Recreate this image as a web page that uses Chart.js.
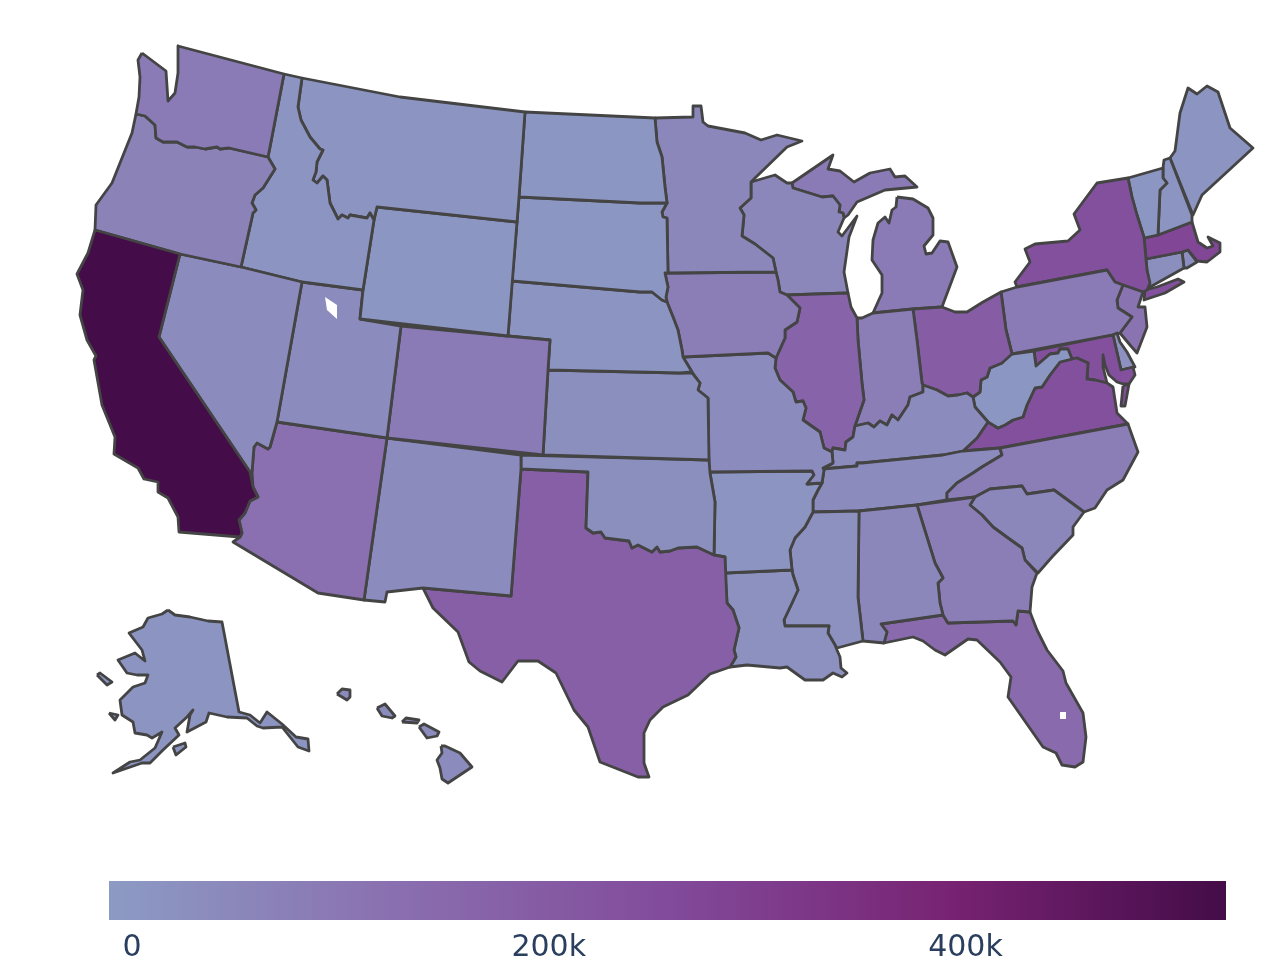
<!DOCTYPE html>
<html>
<head>
<meta charset="utf-8">
<title>US states choropleth</title>
<script src="https://cdn.jsdelivr.net/npm/chart.js@4"></script>
<style>
  html, body { margin: 0; padding: 0; background: #fff; }
  #mapChart { position: absolute; left: 0; top: 0; }
  #barChart { position: absolute; left: 0; top: 881px; }
</style>
</head>
<body>
<canvas id="mapChart" width="1268" height="974"></canvas>
<canvas id="barChart" width="1268" height="93"></canvas>
<script>
const stateNames = ["CA","WA","OR","NV","ID","MT","WY","UT","CO","AZ","NM","ND","SD","NE","KS","OK","TX","MN","IA","MO","AR","LA","MS","AL","GA","SC","NC","FL","TN","KY","IL","IN","OH","WV","VA","MD","DE","PA","NJ","NY","VT","NH","ME","MA","CT","RI","WI","MI","HI","AK"]
const stateValues = [525000,92000,67000,36000,11000,8000,5000,36000,92000,123000,36000,5000,5000,11000,26000,26000,185000,51000,82000,36000,11000,20000,20000,51000,82000,51000,82000,140000,36000,36000,166000,82000,195000,5000,239000,239000,20000,92000,114000,239000,5000,8000,8000,274000,26000,30000,51000,92000,36000,8000]

// Outlines in map units, one list of rings per state, same order as stateNames
const stateOutlines = [
  [[[95,230],[180,254],[159,337],[250,472],[253,487],[258,497],[250,501],[245,513],[239,520],[242,533],[240,537],[179,532],[178,517],[168,498],[158,492],[158,482],[144,479],[138,468],[114,454],[115,437],[102,405],[94,360],[96,356],[87,340],[80,315],[83,290],[77,274],[88,253]]],
  [[[142,53],[138,60],[140,77],[139,97],[136,114],[145,116],[155,125],[156,138],[163,142],[177,142],[187,147],[195,147],[205,149],[217,147],[220,149],[229,148],[268,157],[270,147],[284,74],[178,46],[178,73],[175,93],[168,101],[166,71]]],
  [[[136,114],[132,133],[112,183],[96,205],[95,230],[180,254],[241,267],[253,213],[256,210],[252,203],[255,195],[263,188],[275,169],[268,157],[229,148],[220,149],[217,147],[205,149],[195,147],[187,147],[177,142],[163,142],[156,138],[155,125],[145,116]]],
  [[[180,254],[241,267],[302,282],[277,422],[270,447],[268,449],[257,443],[254,447],[252,472],[250,472],[159,337]]],
  [[[284,74],[302,78],[298,107],[301,120],[310,137],[320,149],[323,150],[317,162],[316,172],[313,180],[317,183],[323,176],[327,180],[330,203],[338,219],[342,215],[348,218],[350,215],[367,218],[370,213],[374,220],[363,290],[302,282],[241,267],[253,213],[256,210],[252,203],[255,195],[263,188],[275,169],[268,157],[270,147]]],
  [[[302,78],[400,97],[525,112],[519,197],[517,222],[377,207],[374,220],[370,213],[367,218],[350,215],[348,218],[342,215],[338,219],[330,203],[327,180],[323,176],[317,183],[313,180],[316,172],[317,162],[323,150],[320,149],[310,137],[301,120],[298,107]]],
  [[[377,207],[517,222],[508,336],[360,319],[363,290],[374,220]]],
  [[[302,282],[363,290],[360,319],[401,326],[387,438],[277,422]]],
  [[[401,326],[550,340],[548,370],[543,455],[387,438]]],
  [[[277,422],[387,438],[364,600],[318,593],[233,542],[240,537],[242,533],[239,520],[245,513],[250,501],[258,497],[253,487],[252,472],[254,447],[257,443],[268,449],[270,447]]],
  [[[387,438],[521,455],[521,469],[511,596],[423,588],[387,592],[385,602],[364,600]]],
  [[[525,112],[655,118],[657,142],[662,157],[665,187],[667,203],[640,203],[519,197]]],
  [[[519,197],[640,203],[667,203],[662,212],[663,217],[667,218],[668,273],[665,273],[668,287],[666,297],[667,302],[662,300],[652,292],[640,292],[512,281],[517,222]]],
  [[[512,281],[640,292],[652,292],[662,300],[667,302],[673,317],[678,330],[682,350],[683,357],[692,372],[680,373],[548,370],[550,340],[508,336]]],
  [[[548,370],[680,373],[692,373],[700,383],[698,390],[708,398],[709,460],[543,455]]],
  [[[521,455],[709,460],[710,473],[715,502],[714,555],[697,547],[678,548],[670,551],[660,552],[657,547],[652,552],[638,545],[632,548],[629,541],[605,538],[601,532],[593,533],[586,528],[588,472],[521,469]]],
  [[[521,469],[588,472],[586,528],[593,533],[601,532],[605,538],[629,541],[632,548],[638,545],[652,552],[657,547],[660,552],[670,551],[678,548],[697,547],[714,555],[725,557],[727,603],[733,610],[739,628],[734,650],[736,657],[730,667],[710,674],[688,695],[663,707],[650,720],[644,733],[644,763],[649,777],[638,777],[600,762],[588,727],[574,710],[556,673],[538,661],[518,661],[502,682],[480,671],[469,662],[458,632],[433,608],[423,588],[511,596]]],
  [[[655,118],[693,117],[693,106],[701,106],[703,122],[708,126],[745,133],[761,140],[777,135],[802,141],[787,147],[755,178],[751,182],[751,198],[740,208],[744,215],[742,236],[755,244],[773,258],[776,272],[668,273],[667,218],[663,217],[662,212],[667,203],[665,187],[662,157],[657,142]]],
  [[[668,273],[776,272],[778,280],[780,292],[787,295],[800,308],[797,322],[785,330],[785,338],[776,358],[768,353],[683,357],[682,350],[678,330],[673,317],[667,302],[666,297],[668,287],[665,273]]],
  [[[683,357],[768,353],[776,358],[775,368],[780,380],[793,392],[796,402],[803,401],[806,408],[803,420],[820,432],[824,448],[832,452],[833,463],[823,468],[824,470],[822,483],[807,484],[814,475],[812,471],[709,472],[708,398],[698,390],[700,383],[692,372]]],
  [[[709,472],[812,471],[814,475],[807,484],[822,483],[818,490],[813,500],[813,512],[805,527],[795,538],[790,550],[792,570],[725,573],[725,557],[714,555],[715,502],[710,473]]],
  [[[725,573],[792,570],[793,575],[798,590],[792,603],[784,620],[785,626],[829,626],[828,633],[835,645],[837,650],[840,657],[841,668],[847,673],[842,677],[833,673],[823,680],[805,680],[787,667],[780,668],[747,665],[730,667],[736,657],[734,650],[739,628],[733,610],[727,603]]],
  [[[813,512],[859,511],[858,597],[863,641],[837,648],[835,645],[828,633],[829,626],[785,626],[784,620],[792,603],[798,590],[793,575],[792,570],[790,550],[795,538],[805,527]]],
  [[[859,511],[917,505],[935,563],[943,578],[938,583],[940,603],[943,615],[881,624],[887,632],[884,643],[863,641],[858,597]]],
  [[[917,505],[975,497],[970,505],[982,515],[993,527],[1008,538],[1022,548],[1025,560],[1037,573],[1032,587],[1030,612],[1018,611],[1016,625],[1013,621],[948,623],[943,615],[940,603],[938,583],[943,578],[935,563]]],
  [[[970,505],[975,497],[990,489],[1022,486],[1027,494],[1054,490],[1084,512],[1073,527],[1073,535],[1052,557],[1038,573],[1025,560],[1022,548],[1008,538],[993,527],[982,515]]],
  [[[1000,448],[1128,424],[1138,452],[1123,480],[1107,490],[1095,508],[1084,512],[1054,490],[1027,494],[1022,486],[990,489],[975,497],[947,500],[947,493],[957,483],[973,473],[982,467],[1002,455]]],
  [[[881,624],[943,615],[948,623],[1013,621],[1016,625],[1018,611],[1030,612],[1037,630],[1047,650],[1063,671],[1066,683],[1083,713],[1086,737],[1083,762],[1075,767],[1062,765],[1056,753],[1043,747],[1008,697],[1011,677],[1000,662],[977,640],[968,639],[945,655],[935,650],[923,641],[913,637],[884,643],[887,632]]],
  [[[823,469],[857,466],[857,463],[862,463],[943,455],[963,451],[1000,448],[1002,455],[982,467],[973,473],[957,483],[947,493],[947,500],[917,505],[859,511],[813,512],[813,500],[818,490],[822,483],[824,470]]],
  [[[833,463],[823,469],[857,466],[857,463],[862,463],[943,455],[963,451],[977,438],[988,422],[975,407],[973,397],[967,393],[958,395],[948,396],[937,390],[923,385],[923,392],[910,397],[908,405],[898,420],[892,415],[887,425],[880,421],[874,427],[868,423],[855,426],[853,437],[846,442],[845,450],[833,448],[832,452]]],
  [[[787,295],[848,293],[851,307],[857,318],[858,340],[862,383],[864,400],[857,420],[855,426],[853,437],[846,442],[845,450],[833,448],[832,452],[824,448],[820,432],[803,420],[806,408],[803,401],[796,402],[793,392],[780,380],[775,368],[776,358],[785,338],[785,330],[797,322],[800,308]]],
  [[[857,318],[862,318],[873,313],[913,309],[917,340],[922,383],[923,385],[923,392],[910,397],[908,405],[898,420],[892,415],[887,425],[880,421],[874,427],[868,423],[855,426],[857,420],[864,400],[862,383],[858,340]]],
  [[[913,309],[942,307],[955,312],[967,312],[983,302],[1001,292],[1006,330],[1012,354],[1002,363],[990,368],[987,377],[981,380],[980,392],[973,397],[967,393],[958,395],[948,396],[937,390],[923,385],[922,383],[917,340]]],
  [[[1006,330],[1012,354],[1034,351],[1036,366],[1050,354],[1058,353],[1060,349],[1068,349],[1072,359],[1060,362],[1050,375],[1042,387],[1035,388],[1027,405],[1023,417],[1013,420],[1005,425],[998,428],[988,422],[975,407],[973,397],[980,392],[981,380],[987,377],[990,368],[1002,363]]],
  [[[963,451],[977,438],[988,422],[998,428],[1005,425],[1013,420],[1023,417],[1027,405],[1035,388],[1042,387],[1050,375],[1060,362],[1072,359],[1077,358],[1088,363],[1087,379],[1095,380],[1107,383],[1113,387],[1117,413],[1128,424],[1000,448]],[[1123,386],[1129,384],[1125,406],[1121,406]]],
  [[[1034,351],[1113,335],[1121,370],[1133,367],[1135,375],[1129,384],[1123,384],[1117,382],[1109,375],[1105,365],[1103,355],[1103,367],[1107,383],[1095,380],[1087,379],[1088,363],[1077,358],[1072,359],[1068,349],[1060,349],[1058,353],[1050,354],[1036,366]]],
  [[[1113,335],[1117,333],[1120,342],[1127,352],[1135,367],[1121,370]]],
  [[[1001,292],[1017,287],[1107,270],[1115,282],[1123,285],[1117,300],[1118,308],[1132,317],[1120,333],[1113,335],[1012,354],[1006,330]]],
  [[[1123,285],[1143,292],[1138,307],[1145,307],[1147,327],[1142,340],[1137,353],[1130,345],[1120,333],[1132,317],[1118,308],[1117,300]]],
  [[[1017,287],[1015,282],[1030,262],[1025,249],[1035,244],[1068,241],[1080,230],[1074,214],[1097,183],[1128,178],[1132,197],[1137,215],[1144,237],[1147,270],[1150,283],[1147,290],[1143,292],[1123,285],[1115,282],[1107,270]],[[1145,290],[1157,287],[1178,279],[1184,282],[1165,293],[1144,300]]],
  [[[1128,178],[1163,168],[1163,178],[1167,183],[1160,190],[1158,235],[1144,238],[1137,215],[1132,197]]],
  [[[1163,168],[1164,160],[1170,158],[1192,215],[1192,222],[1158,235],[1160,190],[1167,183],[1163,178]]],
  [[[1170,158],[1175,151],[1180,113],[1188,88],[1197,94],[1207,86],[1218,92],[1230,128],[1253,148],[1202,195],[1193,215]]],
  [[[1144,238],[1158,235],[1192,222],[1198,242],[1207,248],[1213,246],[1208,237],[1220,243],[1220,252],[1207,262],[1197,261],[1188,250],[1182,252],[1146,259]]],
  [[[1146,259],[1182,252],[1184,268],[1150,287],[1147,270]]],
  [[[1182,252],[1188,250],[1197,262],[1187,268],[1184,268]]],
  [[[751,182],[775,175],[787,183],[792,183],[793,188],[822,197],[833,196],[840,205],[839,212],[843,213],[844,218],[838,232],[842,236],[857,216],[849,237],[844,272],[848,293],[787,295],[780,292],[778,280],[776,272],[773,258],[755,244],[742,236],[744,215],[740,208],[751,198]]],
  [[[792,183],[833,155],[828,169],[840,171],[854,182],[870,173],[890,169],[895,177],[905,176],[917,187],[885,190],[857,202],[848,215],[844,218],[843,213],[839,212],[840,205],[833,196],[822,197],[793,188]],[[897,197],[913,199],[928,208],[933,218],[933,235],[924,246],[926,254],[932,253],[940,241],[948,242],[957,267],[942,307],[913,309],[873,313],[882,293],[882,275],[872,260],[873,240],[878,223],[885,217],[889,223],[892,210],[896,207]]],
  [[[337,694],[342,689],[350,690],[350,697],[347,700]],[[377,708],[385,704],[395,716],[392,718],[382,716]],[[402,722],[406,718],[419,720],[417,723]],[[419,727],[424,724],[439,732],[437,736],[427,738]],[[441,746],[445,746],[460,753],[472,767],[448,783],[442,779],[440,768],[437,760],[442,753]]],
  [[[168,610],[175,615],[190,617],[208,621],[222,622],[239,712],[250,715],[260,723],[267,712],[282,724],[296,737],[308,739],[309,751],[298,747],[282,727],[263,728],[257,726],[247,718],[227,717],[209,713],[206,722],[187,732],[190,715],[193,710],[187,717],[175,728],[179,735],[163,750],[150,763],[142,763],[113,773],[130,762],[140,760],[155,748],[162,732],[152,738],[147,735],[135,733],[133,722],[122,715],[120,700],[133,687],[145,683],[148,675],[137,675],[127,673],[118,660],[135,653],[145,661],[142,650],[129,633],[143,627],[148,618],[162,614]],[[173,747],[185,743],[186,747],[176,755]],[[97,675],[100,673],[112,682],[107,685]],[[109,713],[118,715],[115,720]]]
]

// Water shown as holes in the fill
const lakeOutlines = [
  [[325,297],[337,305],[337,319],[327,310]],
  [[1060,712],[1066,712],[1066,719],[1060,719]]
]

// Colour bar
const rampStops = ["#8c9bc4", "#8a70b0", "#824b9b", "#782373", "#440c48"]
const barRange = [-11000, 525000]
const barTicks = [0, 200000, 400000]

const borderColor = "#444444"
const tickColor = "#2a3f5f"

function hexToRgb(hex) {
  return [1, 3, 5].map((i) => parseInt(hex.slice(i, i + 2), 16))
}

// Linear interpolation along the ramp for one value
function colorFor(value) {
  const t = (value - barRange[0]) / (barRange[1] - barRange[0])
  const pos = Math.min(Math.max(t, 0), 1) * (rampStops.length - 1)
  const i = Math.min(Math.floor(pos), rampStops.length - 2)
  const a = hexToRgb(rampStops[i])
  const b = hexToRgb(rampStops[i + 1])
  const c = a.map((v, k) => Math.round(v + (b[k] - v) * (pos - i)))
  return `rgb(${c[0]}, ${c[1]}, ${c[2]})`
}

function ringToPoints(ring) {
  const pts = ring.map((p) => ({ x: p[0], y: p[1] }))
  pts.push(pts[0])
  return pts
}

const mapDatasets = []

lakeOutlines.forEach((ring) => {
  mapDatasets.push({
    data: ringToPoints(ring),
    showLine: true,
    fill: "shape",
    backgroundColor: "#ffffff",
    borderColor: "#ffffff",
    borderWidth: 0,
    pointRadius: 0,
  })
})

stateNames.forEach((name, i) => {
  stateOutlines[i].forEach((ring) => {
    mapDatasets.push({
      label: name,
      data: ringToPoints(ring),
      showLine: true,
      fill: "shape",
      backgroundColor: colorFor(stateValues[i]),
      borderColor: borderColor,
      borderWidth: 2.8,
      borderJoinStyle: "round",
      pointRadius: 0,
    })
  })
})

new Chart(document.getElementById("mapChart"), {
  type: "scatter",
  data: { datasets: mapDatasets },
  options: {
    responsive: false,
    animation: false,
    layout: { padding: 0 },
    plugins: { legend: { display: false }, tooltip: { enabled: false } },
    scales: {
      x: { type: "linear", min: 0, max: 1268, display: false },
      y: { type: "linear", min: 0, max: 974, reverse: true, display: false },
    },
  },
})

new Chart(document.getElementById("barChart"), {
  type: "bar",
  data: {
    labels: [""],
    datasets: [
      {
        data: [barRange],
        barPercentage: 1,
        categoryPercentage: 1,
        borderSkipped: false,
        backgroundColor: (ctx) => {
          const { chart } = ctx
          // not laid out yet on the first pass
          if (!chart.chartArea) return rampStops[0]
          const x = chart.scales.x
          const g = chart.ctx.createLinearGradient(x.getPixelForValue(barRange[0]), 0, x.getPixelForValue(barRange[1]), 0)
          rampStops.forEach((c, i) => g.addColorStop(i / (rampStops.length - 1), c))
          return g
        },
      },
    ],
  },
  options: {
    indexAxis: "y",
    responsive: false,
    animation: false,
    layout: { padding: { left: 109, right: 42, top: 0, bottom: 0 } },
    plugins: { legend: { display: false }, tooltip: { enabled: false } },
    scales: {
      y: { display: false },
      x: {
        type: "linear",
        min: barRange[0],
        max: barRange[1],
        border: { display: false },
        grid: { display: false, drawTicks: false },
        afterBuildTicks: (axis) => {
          axis.ticks = barTicks.map((value) => ({ value }))
        },
        afterFit: (axis) => {
          axis.height = 54
        },
        ticks: {
          autoSkip: false,
          maxRotation: 0,
          padding: 10,
          color: tickColor,
          font: { family: "'DejaVu Sans'", size: 30 },
          callback: (value) => (value === 0 ? "0" : value / 1000 + "k"),
        },
      },
    },
  },
})
</script>
</body>
</html>
